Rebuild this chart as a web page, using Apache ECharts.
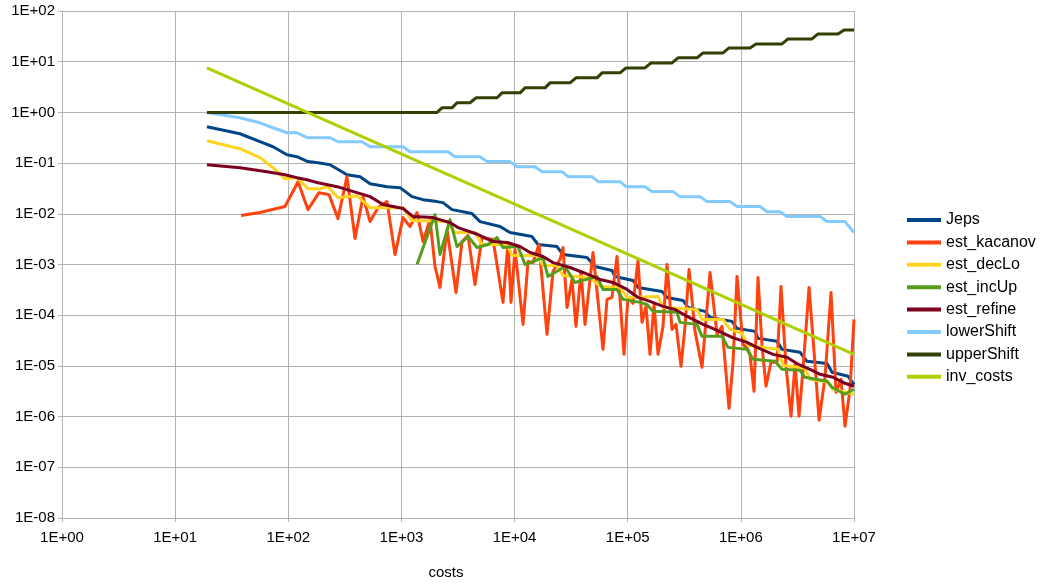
<!DOCTYPE html>
<html>
<head>
<meta charset="utf-8">
<script src="https://cdn.jsdelivr.net/npm/echarts@6/dist/echarts.min.js"></script>
<style>html,body{margin:0;padding:0;background:#fff}#c{width:1040px;height:585px}</style>
</head>
<body>
<div id="c"></div>
<script>
const seriesNames = ['Jeps','est_kacanov','est_decLo','est_incUp','est_refine','lowerShift','upperShift','inv_costs'];
const seriesColors = ['#004586','#ff420e','#ffd320','#579d1c','#7e0021','#83caff','#314004','#aecf00'];
const xAxisName = 'costs';

const jepsX = [19.1,37.4,56.2,73.3,97.4,119,149,183,234,298,330,431,528,746,972,1240,1551,2063,2331,2800,4206,4950,7433,9115,14260,16110,23720,26800,43690,51400,72640,77230,111400,123300,201000,222600,308200,341300,482300,534000,835600,925000,1.334e6,1.418e6,2.088e6,2.311e6,3.334e6,3.844e6,5.777e6,6.394e6,8.855e6,1e7];
const jepsY = [0.521,0.379,0.264,0.210,0.146,0.134,0.107,0.102,0.0930,0.0677,0.0591,0.0540,0.0393,0.0343,0.0328,0.0218,0.0190,0.0174,0.0166,0.0121,0.0101,0.00702,0.00560,0.00427,0.00356,0.00248,0.00226,0.00157,0.00137,9.14e-4,7.62e-4,5.80e-4,4.84e-4,3.53e-4,2.94e-4,2.24e-4,1.95e-4,1.42e-4,1.19e-4,9.05e-5,7.55e-5,5.50e-5,4.80e-5,3.49e-5,3.05e-5,2.12e-5,1.85e-5,1.23e-5,1.12e-5,7.48e-6,6.24e-6,4.34e-6];

const kacanovX = [38.2,56.2,93.5,122,149,187,229,275,330,389,458,528,621,746,877,1033,1191,1373,1551,1789,1981,2193,2529,3038,3433,3877,4471,5155,6448,7902,8750,9301,10090,11874,13150,14560,16440,19350,21870,25210,26800,29080,32190,34910,38660,41940,49350,60480,65620,72640,80430,92740,100600,111400,123300,133800,145100,157400,170800,185300,205100,222600,246400,267300,295900,321000,348300,393500,453700,534000,615600,681700,786100,852800,925000,1.045e6,1.157e6,1.205e6,1.307e6,1.418e6,1.539e6,1.669e6,1.847e6,2.088e6,2.265e6,2.507e6,2.776e6,3.010e6,3.267e6,3.543e6,4.004e6,4.524e6,4.909e6,5.546e6,6.267e6,6.935e6,7.677e6,8.329e6,9.222e6,1e7];
const kacanovY = [0.00922,0.0106,0.0139,0.0430,0.0121,0.0261,0.0239,0.00804,0.0540,0.00325,0.0218,0.00702,0.0132,0.0174,0.00157,0.00842,0.00560,0.0106,0.00284,0.00769,9.14e-4,3.53e-4,0.00489,2.81e-4,0.00284,0.00372,4.04e-4,0.00340,0.00311,1.79e-4,0.00271,1.79e-4,0.00197,6.59e-5,0.00115,0.00109,0.00248,4.19e-5,7.28e-4,0.00125,0.00216,1.42e-4,5.07e-4,6.02e-5,7.28e-4,6.59e-5,0.00172,2.12e-5,2.05e-4,2.24e-4,0.00144,1.69e-5,2.24e-4,1.71e-4,0.00120,7.22e-5,1.49e-4,1.69e-5,1.63e-4,1.69e-5,6.02e-5,1.0e-3,5.25e-5,6.59e-5,9.82e-6,6.02e-5,7.97e-4,4.80e-5,9.38e-6,6.96e-4,4.19e-5,6.02e-5,1.46e-6,1.18e-5,5.80e-4,2.66e-5,2.12e-5,1.62e-5,3.16e-6,5.55e-4,2.43e-5,3.97e-6,1.18e-5,1.18e-5,3.69e-4,9.82e-6,1.02e-6,1.08e-5,1.02e-6,8.57e-6,3.53e-4,1.08e-5,8.49e-7,5.97e-6,2.81e-4,3.02e-6,5.45e-6,6.47e-7,3.46e-6,8.27e-5];

const decLoX = [19.1,37.4,56.2,73.3,93.5,119,149,191,224,275,405,528,1033,1240,2529,2976,4471,5155,8574,9493,15790,17840,23720,26800,46430,56910,85510,98590,185300,205100,409900,453700,695700,802300,1.024e6,1.157e6,2.130e6,2.359e6,3.691e6,4.086e6,5.895e6,6.525e6,1e7];
const decLoY = [0.276,0.192,0.128,0.0812,0.0493,0.0516,0.0313,0.0313,0.0343,0.0208,0.0228,0.0132,0.0132,0.00735,0.00702,0.00427,0.00427,0.00248,0.00248,0.00150,0.00150,9.55e-4,9.55e-4,6.07e-4,5.55e-4,3.69e-4,3.53e-4,2.24e-4,2.35e-4,1.42e-4,1.30e-4,8.27e-5,8.27e-5,5.25e-5,4.38e-5,2.54e-5,2.12e-5,1.03e-5,8.97e-6,5.45e-6,4.75e-6,3.46e-6,2.76e-6];

const incUpX = [1373,1981,2193,2688,3100,3877,4656,5824,6994,7902,10725,12370,17840,19750,27920,34210,53540,60480,80430,90880,128500,148100,167300,272800,290000,409900,453700,681700,770300,1.134e6,1.281e6,2.004e6,2.311e6,3.334e6,3.691e6,5.777e6,6.394e6,8.329e6,1e7];
const incUpY = [1.0e-3,0.00964,0.00157,0.00769,0.00226,0.00356,0.00216,0.00248,0.00340,0.00216,0.00226,1.0e-3,0.00137,5.80e-4,9.14e-4,4.43e-4,5.80e-4,3.22e-4,3.22e-4,2.05e-4,1.79e-4,1.63e-4,1.19e-4,1.14e-4,7.22e-5,6.59e-5,3.83e-5,3.83e-5,2.32e-5,2.12e-5,1.35e-5,1.23e-5,8.57e-6,8.19e-6,5.97e-6,4.98e-6,3.79e-6,2.76e-6,3.46e-6];

const refineX = [19.1,37.4,64.8,93.5,119,146,183,270,330,405,528,687,1033,1266,1901,2688,3163,4753,6448,8574,11170,13700,17840,21870,30900,40260,56910,74140,98590,123300,157400,205100,261900,334400,463000,591100,835600,1.134e6,1.390e6,1.924e6,2.559e6,3.201e6,4.086e6,5.009e6,6.525e6,8.329e6,1e7];
const refineY = [0.0930,0.0812,0.0677,0.0591,0.0516,0.0471,0.0411,0.0343,0.0299,0.0261,0.0218,0.0152,0.0127,0.00881,0.00842,0.00671,0.00535,0.00390,0.00284,0.00271,0.00226,0.00172,0.00144,0.00109,8.73e-4,6.96e-4,5.07e-4,4.43e-4,3.22e-4,2.24e-4,1.87e-4,1.49e-4,1.30e-4,9.47e-5,6.59e-5,5.25e-5,3.66e-5,2.92e-5,2.32e-5,1.69e-5,1.48e-5,1.08e-5,8.57e-6,6.83e-6,5.97e-6,4.54e-6,3.97e-6];

const lowerShiftX = [19.1,37.4,56.2,73.3,97.4,119,149,234,275,448,528,1033,1191,2580,2976,4950,5707,9115,10510,15160,17480,26260,29670,48360,54640,85510,96600,142200,164000,251400,290000,435600,502300,802300,925000,1.477e6,1.703e6,2.219e6,2.559e6,5.009e6,5.777e6,8.329e6,1e7];
const lowerShiftY = [1.0,0.783,0.624,0.498,0.397,0.397,0.316,0.316,0.264,0.264,0.210,0.210,0.168,0.168,0.134,0.134,0.107,0.107,0.0849,0.0849,0.0677,0.0677,0.0540,0.0540,0.0430,0.0430,0.0343,0.0343,0.0274,0.0274,0.0218,0.0218,0.0174,0.0174,0.0139,0.0139,0.0110,0.0110,0.00881,0.00881,0.00702,0.00702,0.00427];

const upperShiftX = [19.1,2063,2284,2800,3100,4039,4562,6994,7745,11170,12370,18580,20570,30900,34910,53540,59270,85510,96600,142200,160700,246400,278400,409900,463000,695700,786100,1.205e6,1.362e6,2.311e6,2.611e6,4.256e6,4.808e6,7.224e6,8.164e6,1e7];
const upperShiftY = [1.0,1.0,1.23,1.23,1.55,1.55,1.94,1.94,2.43,2.43,3.05,3.05,3.83,3.83,4.80,4.80,6.02,6.02,7.55,7.55,9.47,9.47,11.9,11.9,14.9,14.9,18.7,18.7,22.4,22.4,28.1,28.1,35.3,35.3,42.3,42.3];

const invCostsX = [19.1,972,56910,1e7];
const invCostsY = [7.55,0.156,0.0028,1.69e-5];

const allX = [jepsX,kacanovX,decLoX,incUpX,refineX,lowerShiftX,upperShiftX,invCostsX];
const allY = [jepsY,kacanovY,decLoY,incUpY,refineY,lowerShiftY,upperShiftY,invCostsY];

function expLabel(v){
  const e = Math.round(Math.log10(v));
  return '1E' + (e < 0 ? '-' : '+') + String(Math.abs(e)).padStart(2,'0');
}

const FONT = '"Liberation Sans", Arial, sans-serif';
const gridColor = '#b3b3b3';

const chart = echarts.init(document.getElementById('c'), null, {renderer:'canvas'});
chart.setOption({
  animation: false,
  backgroundColor: '#ffffff',
  grid: {left: 62, right: 186, top: 11, bottom: 63, containLabel: false},
  legend: {
    orient: 'vertical', left: 907, top: 212, padding: 0,
    icon: 'rect', itemWidth: 34, itemHeight: 4, itemGap: 6.4,
    textStyle: {fontFamily: FONT, fontSize: 16, color: '#000', lineHeight: 16},
    data: seriesNames
  },
  xAxis: {
    type: 'log', logBase: 10, min: 1, max: 1e7, interval: 1,
    name: xAxisName, nameLocation: 'middle', nameGap: 47,
    nameTextStyle: {fontFamily: FONT, fontSize: 15, color: '#000', padding: [0, 24, 0, 0]},
    axisLine: {show: true, lineStyle: {color: gridColor, width: 1}},
    axisTick: {show: true, length: 4, lineStyle: {color: gridColor}},
    axisLabel: {formatter: expLabel, fontFamily: FONT, fontSize: 15, color: '#000', margin: 12},
    splitLine: {show: true, lineStyle: {color: gridColor, width: 1}},
    minorTick: {show: false}, minorSplitLine: {show: false}
  },
  yAxis: {
    type: 'log', logBase: 10, min: 1e-8, max: 100, interval: 1,
    axisLine: {show: true, lineStyle: {color: gridColor, width: 1}},
    axisTick: {show: true, length: 4, lineStyle: {color: gridColor}},
    axisLabel: {formatter: expLabel, fontFamily: FONT, fontSize: 15, color: '#000', margin: 7},
    splitLine: {show: true, lineStyle: {color: gridColor, width: 1}}
  },
  series: seriesNames.map((name, i) => ({
    name: name,
    type: 'line',
    symbol: 'none',
    color: seriesColors[i],
    lineStyle: {width: 3, color: seriesColors[i], join: 'round'},
    data: allX[i].map((x, k) => [x, allY[i][k]]),
    z: 2 + i
  }))
});
</script>
</body>
</html>
